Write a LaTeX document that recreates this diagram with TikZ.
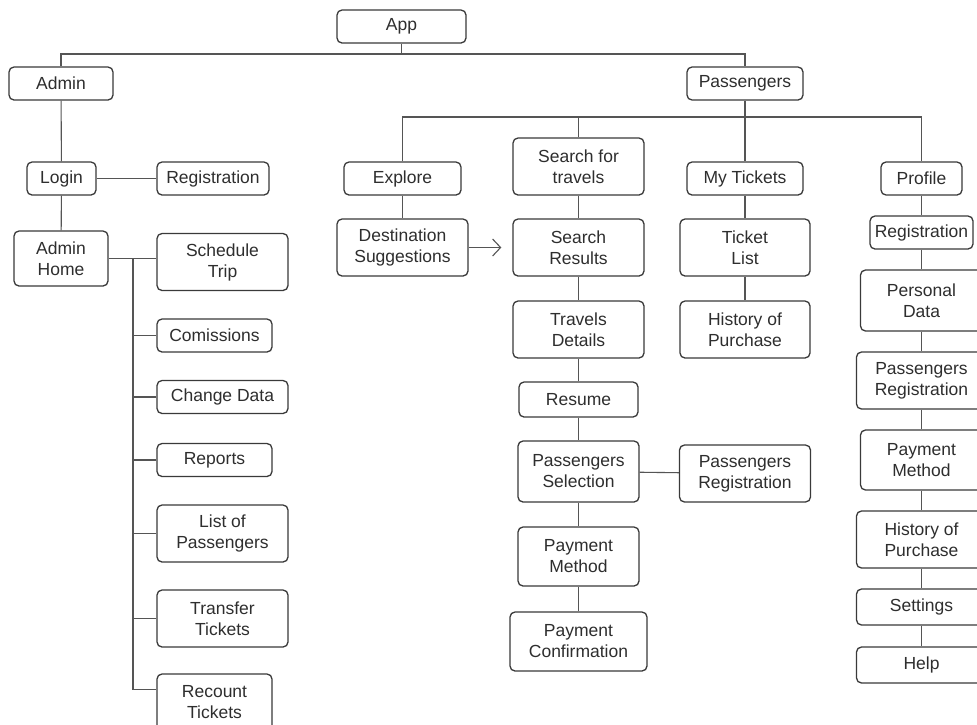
\documentclass[tikz,border=0pt]{standalone}
\usepackage{fontspec}
\setmainfont{Liberation Sans}
\usetikzlibrary{arrows.meta}
\definecolor{boxline}{HTML}{3A3A3A}
\definecolor{linkline}{HTML}{555555}
\definecolor{boxtext}{HTML}{2E2E2E}
\tikzset{
  box/.style={draw=boxline, line width=1.3pt, rounded corners=5pt, fill=white,
    text=boxtext, align=center, inner sep=0pt, minimum height=33pt,
    font=\fontsize{17.5}{21}\selectfont},
  tallbox/.style={box, minimum height=57pt},
  link/.style={draw=linkline, line width=1.1pt}
}

\begin{document}
\begin{tikzpicture}[x=1pt, y=-1pt]
    \fill[white] (0,0) rectangle (977,724);
    \clip (0,0) rectangle (977,724);

    % junction levels
    \coordinate (topbar) at (0,54);
    \coordinate (pbar) at (0,117);
    \coordinate (ahx) at (133,0);

    \node[box, minimum width=129pt] (app) at (401.5,26.5) {App};

    % admin side
    \node[box, minimum width=104pt] (admin) at (61,83.5) {Admin};
    \node[box, minimum width=69pt] (login) at (61.5,178.5) {Login};
    \node[box, minimum width=112pt] (adminreg) at (213,178.5) {Registration};
    \node[box, minimum width=94pt, minimum height=55pt] (adminhome) at (61,258.5) {Admin\\Home};
    \node[tallbox, minimum width=131pt] (schedule) at (222.5,262) {Schedule\\Trip};
    \node[box, minimum width=115pt] (comissions) at (214.5,335.5) {Comissions};
    \node[box, minimum width=131pt] (changedata) at (222.5,397) {Change Data};
    \node[box, minimum width=115pt] (reports) at (214.5,460) {Reports};
    \node[tallbox, minimum width=131pt] (listpass) at (222.5,533.5) {List of\\Passengers};
    \node[tallbox, minimum width=131pt] (transfer) at (222.5,618.5) {Transfer\\Tickets};
    \node[tallbox, minimum width=115pt] (recount) at (214.5,702.5) {Recount\\Tickets};

    % passengers side
    \node[box, minimum width=116pt] (passengers) at (745,83.5) {Passengers};
    \node[box, minimum width=117pt] (explore) at (402.5,178.5) {Explore};
    \node[tallbox, minimum width=131pt] (destination) at (402.5,247.5) {Destination\\Suggestions};

    \node[tallbox, minimum width=131pt] (search) at (578.5,166.5) {Search for\\travels};
    \node[tallbox, minimum width=131pt] (results) at (578.5,247.5) {Search\\Results};
    \node[tallbox, minimum width=131pt] (details) at (578.5,329.5) {Travels\\Details};
    \node[box, minimum width=119pt, minimum height=35pt] (resume) at (578.5,399.5) {Resume};
    \node[tallbox, minimum width=121pt, minimum height=61pt] (selection) at (578.5,471.5) {Passengers\\Selection};
    \node[tallbox, minimum width=121pt, minimum height=59pt] (payment) at (578.5,556.5) {Payment\\Method};
    \node[tallbox, minimum width=137pt, minimum height=59pt] (confirm) at (578.5,641.5) {Payment\\Confirmation};

    \node[box, minimum width=116pt] (mytickets) at (745,178.5) {My Tickets};
    \node[tallbox, minimum width=130pt] (ticketlist) at (745,247.5) {Ticket\\List};
    \node[tallbox, minimum width=130pt] (history) at (745,329.5) {History of\\Purchase};
    \node[tallbox, minimum width=131pt] (passreg) at (745,473.5) {Passengers\\Registration};

    \node[box, minimum width=81pt] (profile) at (921.5,178.5) {Profile};
    \node[box, minimum width=103pt] (profreg) at (921.5,232.5) {Registration};
    \node[tallbox, minimum width=122pt, minimum height=61pt] (personal) at (921.5,300.5) {Personal\\Data};
    \node[tallbox, minimum width=130pt] (profpassreg) at (921.5,380.5) {Passengers\\Registration};
    \node[tallbox, minimum width=122pt, minimum height=60pt] (profpay) at (921.5,460) {Payment\\Method};
    \node[tallbox, minimum width=130pt] (profhistory) at (921.5,539.5) {History of\\Purchase};
    \node[box, minimum width=130pt, minimum height=36pt] (settings) at (921.5,607) {Settings};
    \node[box, minimum width=130pt, minimum height=36pt] (help) at (921.5,665) {Help};

    % top level
    \draw[link] (app.south) -- (app.south |- topbar);
    \draw[link] (admin.north) -- (admin.north |- topbar) -- (passengers.north |- topbar) -- (passengers.north);

    % admin tree
    \draw[link] (admin) -- (login) -- (adminhome);
    \draw[link] (login) -- (adminreg);
    \draw[link] (adminhome.east) -- (adminhome.east -| schedule.west);
    \draw[link] (adminhome.east -| ahx) |- ([yshift=13pt]recount.west);
    \foreach \n in {comissions, changedata, reports, listpass, transfer}
      \draw[link] (\n.west) -- (\n.west -| ahx);

    % passengers tree
    \draw[link] (passengers) -- (mytickets);
    \draw[link] (explore.north) -- (explore.north |- pbar) -- (profile.north |- pbar) -- (profile.north);
    \draw[link] (search.north) -- (search.north |- pbar);
    \draw[link] (explore) -- (destination);
    \draw[link, -{Straight Barb[length=8pt, width=17pt]}, shorten >=11pt] (destination) -- (results);
    \draw[link] (search) -- (results) -- (details) -- (resume) -- (selection) -- (payment) -- (confirm);
    \draw[link] (selection) -- (passreg);
    \draw[link] (mytickets) -- (ticketlist) -- (history);
    \draw[link] (profile) -- (profreg) -- (personal) -- (profpassreg) -- (profpay) -- (profhistory) -- (settings) -- (help);
\end{tikzpicture}
\end{document}
